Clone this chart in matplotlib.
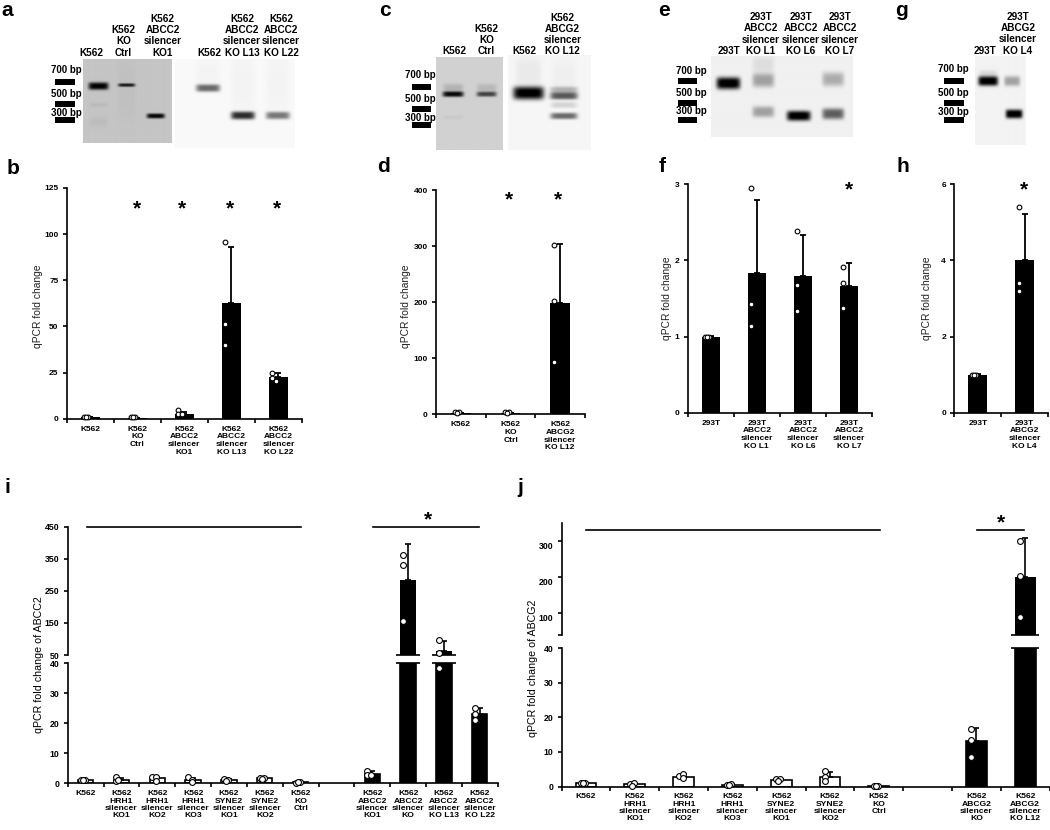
import numpy as np
import matplotlib
matplotlib.use("Agg")
import matplotlib.pyplot as plt
from matplotlib.transforms import ScaledTranslation

plt.rcParams['font.family'] = ['Liberation Sans', 'DejaVu Sans']
W, H = 1050, 830

# ---------- data ----------
b_labels = ["K562", "K562\nKO\nCtrl", "K562\nABCC2\nsilencer\nKO1", "K562\nABCC2\nsilencer\nKO L13", "K562\nABCC2\nsilencer\nKO L22"]
b_values = [0.9, 0.5, 2.8, 62.5, 22.5]
b_errors = [0.1, 0.1, 1.0, 30.5, 2.5]
b_points = [[1, 1, 0.8], [0.9, 1, 1], [4.5, 2.5, 2.5], [96, 51.5, 40], [24.5, 22, 20.5]]

d_labels = ["K562", "K562\nKO\nCtrl", "K562\nABCG2\nsilencer\nKO L12"]
d_values = [2, 2, 198]
d_errors = [0.5, 0.5, 105]
d_points = [[3, 3, 2], [3, 3, 2], [301, 202, 92]]

f_labels = ["293T", "293T\nABCC2\nsilencer\nKO L1", "293T\nABCC2\nsilencer\nKO L6", "293T\nABCC2\nsilencer\nKO L7"]
f_values = [1.0, 1.84, 1.8, 1.67]
f_errors = [0.005, 0.96, 0.53, 0.29]
f_points = [[1, 1, 1], [2.95, 1.43, 1.14], [2.39, 1.68, 1.34], [1.92, 1.71, 1.37]]

h_labels = ["293T", "293T\nABCG2\nsilencer\nKO L4"]
h_values = [1.0, 4.0]
h_errors = [0.01, 1.23]
h_points = [[1, 1, 1], [5.4, 3.4, 3.2]]

i_labels = ["K562", "K562\nHRH1\nsilencer\nKO1", "K562\nHRH1\nsilencer\nKO2", "K562\nHRH1\nsilencer\nKO3",
            "K562\nSYNE2\nsilencer\nKO1", "K562\nSYNE2\nsilencer\nKO2", "K562\nKO\nCtrl", "",
            "K562\nABCC2\nsilencer\nKO1", "K562\nABCC2\nsilencer\nKO", "K562\nABCC2\nsilencer\nKO L13", "K562\nABCC2\nsilencer\nKO L22"]
i_values = [1.0, 1.2, 1.7, 1.2, 1.2, 1.7, 0.4, None, 3.2, 285, 63, 23]
i_errors = [0.1, 0.6, 0.5, 0.6, 0.2, 0.2, 0.1, None, 1.0, 112, 31, 2]
i_points = [[1, 1, 1], [0.7, 2, 1.1], [2, 2.1, 0.9], [2, 1.1, 0.5], [1.3, 1.2, 0.9], [1.9, 1.7, 1.6], [0.2, 0.5, 0.4], [],
            [4.2, 2.8, 2.7], [363, 332, 156], [96, 55, 38.5], [25, 23, 21]]
i_fill = ['white'] * 7 + ['none'] + ['black'] * 4

j_labels = ["K562", "K562\nHRH1\nsilencer\nKO1", "K562\nHRH1\nsilencer\nKO2", "K562\nHRH1\nsilencer\nKO3",
            "K562\nSYNE2\nsilencer\nKO1", "K562\nSYNE2\nsilencer\nKO2", "K562\nKO\nCtrl", "",
            "K562\nABCG2\nsilencer\nKO", "K562\nABCG2\nsilencer\nKO L12"]
j_values = [1.0, 0.6, 2.8, 0.5, 2.0, 2.8, 0.2, None, 13, 200]
j_errors = [0.1, 0.2, 0.7, 0.1, 0.2, 1.3, 0.05, None, 4, 107]
j_points = [[1, 1, 1], [0.8, 1, 0.2], [3, 3.7, 2.4], [0.5, 0.8, 0.5], [2.2, 2.3, 1.6], [4.5, 2.8, 1.5], [0.1, 0.1, 0.1], [],
            [16.5, 13.5, 8.5], [300, 203, 88]]
j_fill = ['white'] * 7 + ['none'] + ['black'] * 2

bp_labels = ["700 bp", "500 bp", "300 bp"]

# ---------- helpers ----------
fig = plt.figure(figsize=(W / 100, H / 100), dpi=100)
fig.patch.set_facecolor('white')

ov = fig.add_axes([0, 0, 1, 1], zorder=5)
ov.patch.set_alpha(0)
ov.axis('off')


def reset_overlay():
    ov.set_xlim(0, W)
    ov.set_ylim(H, 0)
    ov.set_aspect('auto')


reset_overlay()


def axes_px(l, t, r, b):
    ax = fig.add_axes([l / W, 1 - b / H, (r - l) / W, (b - t) / H])
    ax.patch.set_alpha(0)
    for s in ('top', 'right'):
        ax.spines[s].set_visible(False)
    for s in ('left', 'bottom'):
        ax.spines[s].set_linewidth(1.2)
    return ax


def gel(x0, y0, x1, y1, bg, bands):
    res = 3
    xs = np.linspace(x0, x1, int((x1 - x0) * res))
    ys = np.linspace(y0, y1, int((y1 - y0) * res))
    X, Y = np.meshgrid(xs, ys)
    img = np.full(X.shape, bg, dtype=float)
    for cx, cy, w, h, dark in bands:
        img -= dark * np.exp(-((X - cx) / (w / 2)) ** 6) * np.exp(-np.abs((Y - cy) / (h / 2)) ** 3)
    ov.imshow(np.clip(img, 0, 1), cmap='gray', vmin=0, vmax=1, extent=(x0, x1, y1, y0),
              aspect='auto', interpolation='bilinear', zorder=1)
    reset_overlay()


def ladder(x0, x1, ys, label_x, label_ys):
    for y in ys:
        ov.fill_between([x0, x1], y, y + 6, color='black', lw=0, zorder=2)
    for txt, y in zip(bp_labels, label_ys):
        ov.text(label_x, y, txt, ha='right', va='center', fontsize=7, fontweight='bold', zorder=3)


def top_label(x, txt, bottom=57.5):
    ov.text(x, bottom, txt, ha='center', va='bottom', fontsize=7.2, fontweight='bold',
            linespacing=1.16, zorder=3)


def letter(x, y, s):
    ov.text(x, y, s, ha='left', va='center', fontsize=15, fontweight='bold', zorder=3)


def star(x, y):
    ov.text(x, y, '*', ha='center', va='center', fontsize=15, fontweight='bold', zorder=3)


def xaxis(ax, labels, fs, pad, ls=1.17):
    n = len(labels)
    ax.set_xlim(0, n)
    ax.set_xticks(np.arange(n + 1))
    ax.set_xticklabels([])
    ax.set_xticks(np.arange(n) + 0.5, labels, minor=True)
    ax.tick_params(axis='x', which='major', direction='out', length=3, width=1.2)
    ax.tick_params(axis='x', which='minor', length=0, pad=pad, labelsize=fs)
    for t in ax.get_xticklabels(minor=True):
        t.set_fontweight('bold')
        t.set_linespacing(ls)
        t.set_verticalalignment('top')


def yaxis(ax, ticks, fs, labels=None):
    ax.set_yticks(ticks)
    if labels is not None:
        ax.set_yticklabels(labels)
    ax.tick_params(axis='y', direction='out', length=3, width=1.2, labelsize=fs, pad=3)
    for t in ax.get_yticklabels():
        t.set_fontweight('bold')


def scatter_pts(ax, xc, pts, px_per_x, px_per_y, base=-6.0, ms=3.4):
    placed = []
    shift = [0, 4, 2]
    for p in pts:
        close = sum(1 for q in placed if abs(q - p) * px_per_y < 3.5)
        placed.append(p)
        dx = (base + shift[close]) / px_per_x
        ax.plot(xc + dx, p, 'o', ms=ms, mfc='white', mec='black', mew=0.8, clip_on=False, zorder=6)


def simple_panel(box, labels, values, errors, points, ylim, ticks, fs=6, pad=5):
    l, t, r, b = box
    ax = axes_px(l, t, r, b)
    n = len(labels)
    xc = np.arange(n) + 0.5
    ax.bar(xc, values, width=0.4, color='black', zorder=2)
    ax.errorbar(xc, values, yerr=[np.zeros(n), errors], fmt='none', ecolor='black',
                elinewidth=1.3, capsize=2, capthick=1.3, zorder=3)
    ax.set_ylim(*ylim)
    xaxis(ax, labels, fs, pad)
    yaxis(ax, ticks, fs)
    ppx = (r - l) / n
    ppy = (b - t) / (ylim[1] - ylim[0])
    for x, pts in zip(xc, points):
        scatter_pts(ax, x, pts, ppx, ppy)
    return ax


def broken_panel(left, right, top, high_bot_px, low_top_px, zero_px, high_lim, low_lim,
                 labels, values, errors, points, fills, high_ticks, high_labels, low_ticks,
                 cap_extra, high_label_shift=0):
    axh = axes_px(left, top, right, high_bot_px)
    axl = axes_px(left, low_top_px, right, zero_px)
    axh.spines['bottom'].set_visible(False)
    n = len(labels)
    ppx = (right - left) / n
    width = 0.43
    ppy_l = (zero_px - low_top_px) / (low_lim[1] - low_lim[0])
    ppy_h = (high_bot_px - top) / (high_lim[1] - high_lim[0])
    for k, v in enumerate(values):
        if v is None:
            continue
        x = k + 0.5
        fc = fills[k]
        edge = 'black'
        axl.bar(x, min(v, low_lim[1]), width=width, color=fc, edgecolor=edge, linewidth=1.2, zorder=2)
        target = axl
        if v > low_lim[1]:
            axh.bar(x, v - high_lim[0], bottom=high_lim[0], width=width, color=fc, zorder=2)
            half = width / 2 + cap_extra / ppx
            axh.hlines(high_lim[0], x - half, x + half, color='black', lw=1.2, clip_on=False, zorder=3)
            axl.hlines(low_lim[1], x - half, x + half, color='black', lw=1.2, clip_on=False, zorder=3)
            target = axh
        target.errorbar([x], [v], yerr=[[0], [errors[k]]], fmt='none', ecolor='black',
                         elinewidth=1.2, capsize=2, capthick=1.2, zorder=3)
        lo = [p for p in points[k] if p <= low_lim[1]]
        hi = [p for p in points[k] if p > low_lim[1]]
        scatter_pts(axl, x, lo, ppx, ppy_l, base=-5.0, ms=4.2)
        if hi:
            scatter_pts(axh, x, hi, ppx, ppy_h, base=-5.0, ms=4.2)
    axh.set_ylim(*high_lim)
    axl.set_ylim(*low_lim)
    axh.set_xlim(0, n)
    axh.set_xticks([])
    xaxis(axl, labels, 6.1, 5, ls=1.06)
    yaxis(axh, high_ticks, 6.3, high_labels)
    yaxis(axl, low_ticks, 6.3)
    if high_label_shift:
        off = ScaledTranslation(0, -high_label_shift / 100, fig.dpi_scale_trans)
        for t in axh.get_yticklabels():
            t.set_transform(t.get_transform() + off)
    return axh, axl


# ---------- gels ----------
gel(82.7, 59, 171, 143, 0.77, [(98, 86, 20, 7.5, 0.77), (126, 85, 17, 3.5, 0.65), (155, 116, 18, 5, 0.75),
                               (98, 105, 18, 4, 0.04), (98, 122, 18, 10, 0.03), (126, 90, 17, 60, 0.02)])
gel(175, 59, 295, 148, 0.975, [(208, 88, 24, 7.5, 0.55), (243, 115.5, 24, 8, 0.8), (278, 115.5, 24, 7.5, 0.5),
                               (208, 75, 24, 30, 0.02), (243, 85, 24, 60, 0.02), (278, 85, 24, 60, 0.02)])
gel(436, 57, 502.7, 149.6, 0.82, [(453, 94, 21, 5.5, 0.78), (486.5, 94, 20, 5, 0.55), (453, 88, 20, 9, 0.12),
                                  (486.5, 88, 20, 9, 0.1), (453, 117, 20, 4, 0.03)])
gel(508, 55, 591, 150, 0.965, [(528.5, 93, 31, 13, 1.0), (528.5, 72, 26, 30, 0.05), (564, 96, 28, 7, 0.6),
                               (564, 90, 28, 7, 0.25), (564, 105, 26, 6, 0.13), (564, 116, 27, 6.5, 0.55),
                               (564, 80, 24, 40, 0.03)])
gel(710.7, 57, 852.7, 137.5, 0.945, [(728, 84, 24, 12, 1.0), (763, 81, 22, 14, 0.32), (763, 65, 22, 16, 0.08),
                                     (763, 112.5, 22, 11, 0.32), (798.5, 116.5, 24, 10, 1.0),
                                     (833, 80, 22, 14, 0.27), (833, 114.5, 22, 11, 0.58)])
gel(975, 56, 1025.7, 145, 0.95, [(988, 81, 20, 9.5, 1.0), (1012, 81, 16, 10, 0.32), (1014, 114, 17, 9, 1.0), (988, 74, 18, 8, 0.1)])

ladder(55, 74.5, [79.5, 101, 117.5], 82, [70, 94, 113])
ladder(412, 431, [84, 106, 122], 436, [75, 99, 118])
ladder(677.5, 697, [78.5, 100, 117], 707, [71.5, 93, 111])
ladder(944, 963.5, [78.5, 100, 117], 969, [69, 93, 112])

for x, s in [(91, "K562"), (123.5, "K562\nKO\nCtrl"), (162.5, "K562\nABCC2\nsilencer\nKO1"),
             (209, "K562"), (242, "K562\nABCC2\nsilencer\nKO L13"), (281, "K562\nABCC2\nsilencer\nKO L22")]:
    top_label(x, s)
for x, s in [(454, "K562"), (486.6, "K562\nKO\nCtrl"), (524, "K562"), (562.5, "K562\nABCG2\nsilencer\nKO L12")]:
    top_label(x, s, 56.5)
for x, s in [(729, "293T"), (761, "293T\nABCC2\nsilencer\nKO L1"), (801, "293T\nABCC2\nsilencer\nKO L6"),
             (840, "293T\nABCC2\nsilencer\nKO L7")]:
    top_label(x, s, 56)
for x, s in [(985, "293T"), (1018, "293T\nABCG2\nsilencer\nKO L4")]:
    top_label(x, s, 55.5)

# ---------- bar panels ----------
axes = [
    ((66.7, 188, 302, 418.7), b_labels, b_values, b_errors, b_points, (0, 125), [0, 25, 50, 75, 100, 125], "qPCR fold change", 38, 306.7),
    ((436, 190, 585, 414), d_labels, d_values, d_errors, d_points, (0, 400), [0, 100, 200, 300, 400], "qPCR fold change", 406, 306.7),
    ((687.7, 184.3, 872, 412.7), f_labels, f_values, f_errors, f_points, (0, 3), [0, 1, 2, 3], "qPCR fold change", 667, 298),
    ((954.3, 184.3, 1048, 412.7), h_labels, h_values, h_errors, h_points, (0, 6), [0, 2, 4, 6], "qPCR fold change", 927, 298),
]
for box, labs, vals, errs, pts, lim, ticks, yl, yx, yy in axes:
    simple_panel(box, labs, vals, errs, pts, lim, ticks)
    ov.text(yx, yy, yl, rotation=90, ha='center', va='center', fontsize=7.4, color='#222222', zorder=3)

broken_panel(67.7, 497.7, 526.7, 655, 663.3, 783.3, (50, 450), (0, 40),
             i_labels, i_values, i_errors, i_points, i_fill,
             [50, 150, 250, 350, 450], None, [0, 10, 20, 30, 40], 4.5)
broken_panel(561.6, 1049.6, 523, 635, 648, 786.5, (39, 350), (0, 40),
             j_labels, j_values, j_errors, j_points, j_fill,
             [39, 100, 200, 300], ['', '100', '200', '300'], [0, 10, 20, 30, 40], 3.7, high_label_shift=4)

ov.text(39, 665, "qPCR fold change of ABCC2", rotation=90, ha='center', va='center', fontsize=7.7, zorder=3)
ov.text(533, 668, "qPCR fold change of ABCG2", rotation=90, ha='center', va='center', fontsize=7.7, zorder=3)

# significance lines and asterisks
for x0, x1, y in [(87, 301, 526.5), (372.7, 479, 526.5), (585.8, 879.8, 530), (977, 1024, 530)]:
    ov.plot([x0, x1], [y, y], color='black', lw=1.2, zorder=3)
for x, y in [(137, 209), (182, 209), (230, 209), (277, 209), (508.7, 200), (558, 200), (848.7, 190), (1024, 190),
             (427.5, 520), (1001, 523)]:
    star(x, y)

for x, y, s in [(1, 10, 'a'), (7, 168, 'b'), (379, 10, 'c'), (377, 167, 'd'), (658, 10, 'e'), (659, 166, 'f'),
                (895, 10, 'g'), (896, 167, 'h'), (5, 487, 'i'), (517, 487, 'j')]:
    letter(x, y, s)

fig.savefig("out.png", dpi=100, facecolor='white')
